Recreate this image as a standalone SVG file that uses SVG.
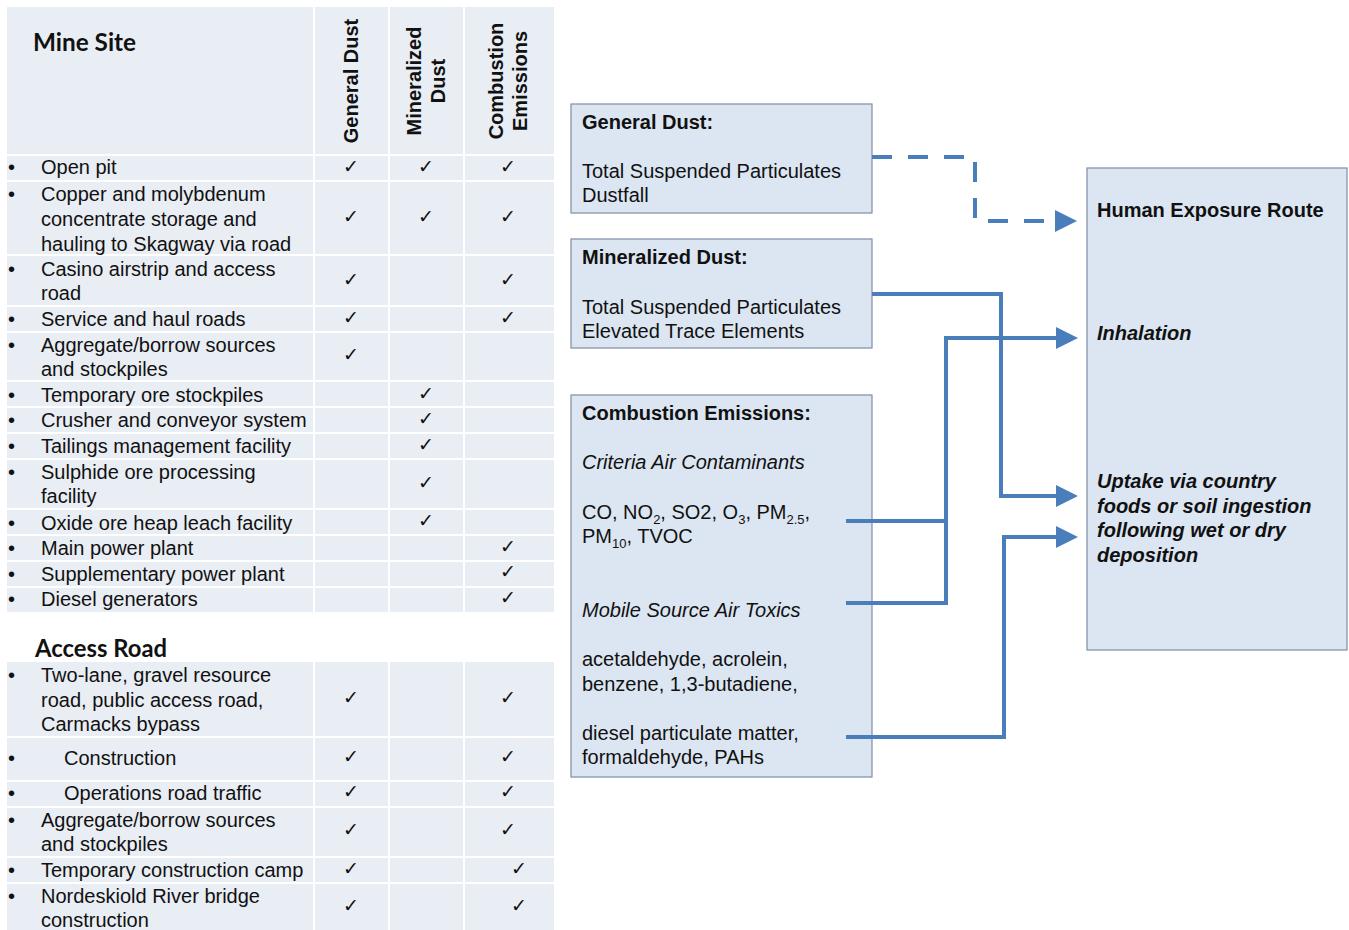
<svg xmlns="http://www.w3.org/2000/svg" width="1349" height="930" viewBox="0 0 1349 930">
<defs>
<style>
.t{font-family:"Liberation Sans",Arial,sans-serif;font-size:20px;fill:#111;}
.b{font-weight:bold;}
.i{font-style:italic;}
.h{font-family:Lato,"Liberation Sans",sans-serif;font-weight:bold;font-size:24px;fill:#111;}
.ck{font-family:"DejaVu Sans",sans-serif;font-size:19px;fill:#111;text-anchor:middle;}
.cell{fill:#E9EDF4;}
.sep{stroke:#FFFFFF;stroke-width:2;}
.box{fill:#DCE6F2;stroke:#7E8EA6;stroke-width:1.2;}
.con{fill:none;stroke:#4A7EBB;stroke-width:4;}
.sub{font-size:13px;}
</style>
<marker id="arr" viewBox="0 0 22 22" markerWidth="22" markerHeight="22" refX="1" refY="11" orient="auto" markerUnits="userSpaceOnUse">
<path d="M0,0 L22,11 L0,22 Z" fill="#4A7EBB"/>
</marker>
</defs>
<rect width="1349" height="930" fill="#FFFFFF"/>

<g id="mine-site-table">
<rect class="cell" x="7" y="7" width="547" height="605"/>
<g class="sep">
<line x1="314" y1="7" x2="314" y2="612"/>
<line x1="389" y1="7" x2="389" y2="612"/>
<line x1="464" y1="7" x2="464" y2="612"/>
<line x1="7" y1="155" x2="554" y2="155"/>
<line x1="7" y1="181" x2="554" y2="181"/>
<line x1="7" y1="255" x2="554" y2="255"/>
<line x1="7" y1="306" x2="554" y2="306"/>
<line x1="7" y1="332" x2="554" y2="332"/>
<line x1="7" y1="381" x2="554" y2="381"/>
<line x1="7" y1="407" x2="554" y2="407"/>
<line x1="7" y1="433" x2="554" y2="433"/>
<line x1="7" y1="459" x2="554" y2="459"/>
<line x1="7" y1="509" x2="554" y2="509"/>
<line x1="7" y1="535" x2="554" y2="535"/>
<line x1="7" y1="561" x2="554" y2="561"/>
<line x1="7" y1="587" x2="554" y2="587"/>
</g>
<text class="h" x="33" y="51" textLength="103" lengthAdjust="spacingAndGlyphs">Mine Site</text>
<text class="t b" transform="translate(358,81) rotate(-90)" text-anchor="middle">General Dust</text>
<text class="t b" transform="translate(421,81) rotate(-90)" text-anchor="middle">Mineralized</text>
<text class="t b" transform="translate(445,81) rotate(-90)" text-anchor="middle">Dust</text>
<text class="t b" transform="translate(503,81) rotate(-90)" text-anchor="middle">Combustion</text>
<text class="t b" transform="translate(527,81) rotate(-90)" text-anchor="middle">Emissions</text>
<g class="t">
<text x="8" y="174">•</text><text x="41" y="174">Open pit</text>
<text x="8" y="201">•</text><text x="41" y="201">Copper and molybdenum</text><text x="41" y="226">concentrate storage and</text><text x="41" y="251">hauling to Skagway via road</text>
<text x="8" y="276">•</text><text x="41" y="276">Casino airstrip and access</text><text x="41" y="300">road</text>
<text x="8" y="326">•</text><text x="41" y="326">Service and haul roads</text>
<text x="8" y="352">•</text><text x="41" y="352">Aggregate/borrow sources</text><text x="41" y="376">and stockpiles</text>
<text x="8" y="402">•</text><text x="41" y="402">Temporary ore stockpiles</text>
<text x="8" y="427">•</text><text x="41" y="427">Crusher and conveyor system</text>
<text x="8" y="453">•</text><text x="41" y="453">Tailings management facility</text>
<text x="8" y="479">•</text><text x="41" y="479">Sulphide ore processing</text><text x="41" y="503">facility</text>
<text x="8" y="530">•</text><text x="41" y="530">Oxide ore heap leach facility</text>
<text x="8" y="555">•</text><text x="41" y="555">Main power plant</text>
<text x="8" y="581">•</text><text x="41" y="581">Supplementary power plant</text>
<text x="8" y="606">•</text><text x="41" y="606">Diesel generators</text>
</g>
<g class="ck">
<text x="351" y="173">✓</text><text x="426" y="173">✓</text><text x="508" y="173">✓</text>
<text x="351" y="223">✓</text><text x="426" y="223">✓</text><text x="508" y="223">✓</text>
<text x="351" y="286">✓</text><text x="508" y="286">✓</text>
<text x="351" y="324">✓</text><text x="508" y="324">✓</text>
<text x="351" y="361">✓</text>
<text x="426" y="400">✓</text>
<text x="426" y="425">✓</text>
<text x="426" y="451">✓</text>
<text x="426" y="489">✓</text>
<text x="426" y="527">✓</text>
<text x="508" y="553">✓</text>
<text x="508" y="578">✓</text>
<text x="508" y="604">✓</text>
</g>
</g>

<g id="access-road-table">
<text class="h" x="35" y="657" textLength="132" lengthAdjust="spacingAndGlyphs">Access Road</text>
<rect class="cell" x="7" y="662" width="547" height="268"/>
<g class="sep">
<line x1="314" y1="662" x2="314" y2="930"/>
<line x1="389" y1="662" x2="389" y2="930"/>
<line x1="464" y1="662" x2="464" y2="930"/>
<line x1="7" y1="737" x2="554" y2="737"/>
<line x1="7" y1="781" x2="554" y2="781"/>
<line x1="7" y1="807" x2="554" y2="807"/>
<line x1="7" y1="857" x2="554" y2="857"/>
<line x1="7" y1="883" x2="554" y2="883"/>
</g>
<g class="t">
<text x="8" y="682">•</text><text x="41" y="682">Two-lane, gravel resource</text><text x="41" y="707">road, public access road,</text><text x="41" y="731">Carmacks bypass</text>
<text x="8" y="765">•</text><text x="64" y="765">Construction</text>
<text x="8" y="800">•</text><text x="64" y="800">Operations road traffic</text>
<text x="8" y="827">•</text><text x="41" y="827">Aggregate/borrow sources</text><text x="41" y="851">and stockpiles</text>
<text x="8" y="877">•</text><text x="41" y="877">Temporary construction camp</text>
<text x="8" y="903">•</text><text x="41" y="903">Nordeskiold River bridge</text><text x="41" y="927">construction</text>
</g>
<g class="ck">
<text x="351" y="704">✓</text><text x="508" y="704">✓</text>
<text x="351" y="763">✓</text><text x="508" y="763">✓</text>
<text x="351" y="798">✓</text><text x="508" y="798">✓</text>
<text x="351" y="836">✓</text><text x="508" y="836">✓</text>
<text x="351" y="875">✓</text><text x="519" y="875">✓</text>
<text x="351" y="912">✓</text><text x="519" y="912">✓</text>
</g>
</g>

<g id="general-dust">
<rect class="box" x="571" y="104" width="301" height="109"/>
<text class="t b" x="582" y="129">General Dust:</text>
<text class="t" x="582" y="178">Total Suspended Particulates</text>
<text class="t" x="582" y="202">Dustfall</text>
</g>

<g id="mineralized-dust">
<rect class="box" x="571" y="239" width="301" height="109"/>
<text class="t b" x="582" y="264">Mineralized Dust:</text>
<text class="t" x="582" y="314">Total Suspended Particulates</text>
<text class="t" x="582" y="338">Elevated Trace Elements</text>
</g>

<g id="combustion-emissions">
<rect class="box" x="571" y="395" width="301" height="382"/>
<text class="t b" x="582" y="420">Combustion Emissions:</text>
<text class="t i" x="582" y="469">Criteria Air Contaminants</text>
<text class="t" x="582" y="519">CO, NO<tspan class="sub" dy="5">2</tspan><tspan dy="-5">, SO2, O</tspan><tspan class="sub" dy="5">3</tspan><tspan dy="-5">, PM</tspan><tspan class="sub" dy="5">2.5</tspan><tspan dy="-5">,</tspan></text>
<text class="t" x="582" y="543">PM<tspan class="sub" dy="5">10</tspan><tspan dy="-5">, TVOC</tspan></text>
<text class="t i" x="582" y="617">Mobile Source Air  Toxics</text>
<text class="t" x="582" y="666">acetaldehyde, acrolein,</text>
<text class="t" x="582" y="691">benzene, 1,3-butadiene,</text>
<text class="t" x="582" y="740">diesel particulate matter,</text>
<text class="t" x="582" y="764">formaldehyde, PAHs</text>
</g>

<g id="human-exposure-route">
<rect class="box" x="1087" y="168" width="260" height="482"/>
<text class="t b" x="1097" y="217">Human Exposure Route</text>
<text class="t b i" x="1097" y="340">Inhalation</text>
<text class="t b i" x="1097" y="488">Uptake via country</text>
<text class="t b i" x="1097" y="513">foods or soil ingestion</text>
<text class="t b i" x="1097" y="537">following wet or dry</text>
<text class="t b i" x="1097" y="562">deposition</text>
</g>

<g id="connectors">
<path class="con" d="M872,157 H975 V221 H1056" stroke-dasharray="20 16" marker-end="url(#arr)"/>
<path class="con" d="M872,294 H1001 V496 H1057" marker-end="url(#arr)"/>
<path class="con" d="M846,521 H946"/>
<path class="con" d="M846,603 H946 V338 H1057" marker-end="url(#arr)"/>
<path class="con" d="M846,737 H1004 V537 H1057" marker-end="url(#arr)"/>
</g>
</svg>
